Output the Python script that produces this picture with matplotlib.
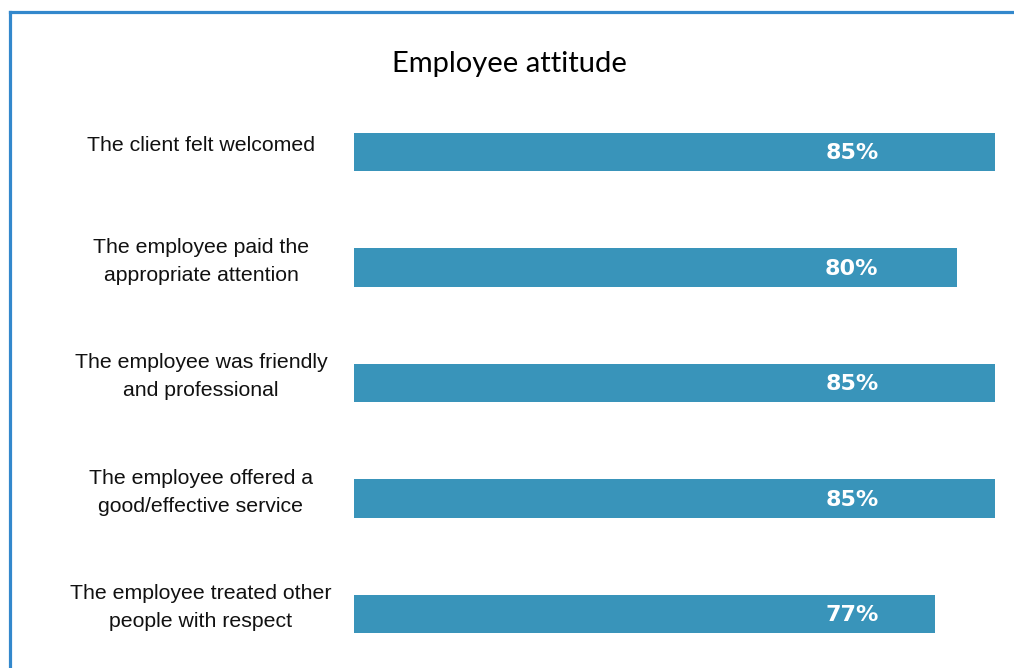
import matplotlib
matplotlib.use("Agg")
import matplotlib.pyplot as plt
from matplotlib.lines import Line2D
from matplotlib.transforms import blended_transform_factory

categories = [
    "The client felt welcomed",
    "The employee paid the\nappropriate attention",
    "The employee was friendly\nand professional",
    "The employee offered a\ngood/effective service",
    "The employee treated other\npeople with respect",
]
values = [85, 80, 85, 85, 77]
labels = ["85%", "80%", "85%", "85%", "77%"]

W, H = 1014, 668
fig = plt.figure(figsize=(W / 100, H / 100), dpi=100)

# bar area: 0% sits at x=354px, one category per 115.5px
ax = fig.add_axes([354 / W, 0, (W - 354) / W, (H - 94.25) / H])
ypos = list(range(len(values)))
ax.barh(ypos, values, height=0.33, color="#3994ba")
ax.set_xlim(0, 87.5)
ax.set_ylim(4.467, -0.5)
ax.axis("off")

for y, lab in zip(ypos, labels):
    ax.text(66, y + 0.01, lab, color="white", fontsize=16, fontweight="bold",
            ha="center", va="center", family="DejaVu Sans")

tr = blended_transform_factory(fig.transFigure, ax.transData)
for y, cat in zip(ypos, categories):
    ax.text(201 / W, y - 0.055, cat, transform=tr, ha="center", va="center",
            fontsize=15.3, family="Liberation Sans", linespacing=1.62,
            color="#111111")

fig.text(509 / W, 1 - 64 / H, "Employee attitude", ha="center", va="center",
         fontsize=21, family="Lato")

# blue frame on the top and left edges
fig.add_artist(Line2D([9.5 / W, 1], [1 - 11.5 / H] * 2, color="#3388cc", lw=2.3,
                      transform=fig.transFigure))
fig.add_artist(Line2D([9.5 / W] * 2, [0, 1 - 11.5 / H], color="#3388cc", lw=2.3,
                      transform=fig.transFigure))

fig.savefig("out.png", dpi=100)
